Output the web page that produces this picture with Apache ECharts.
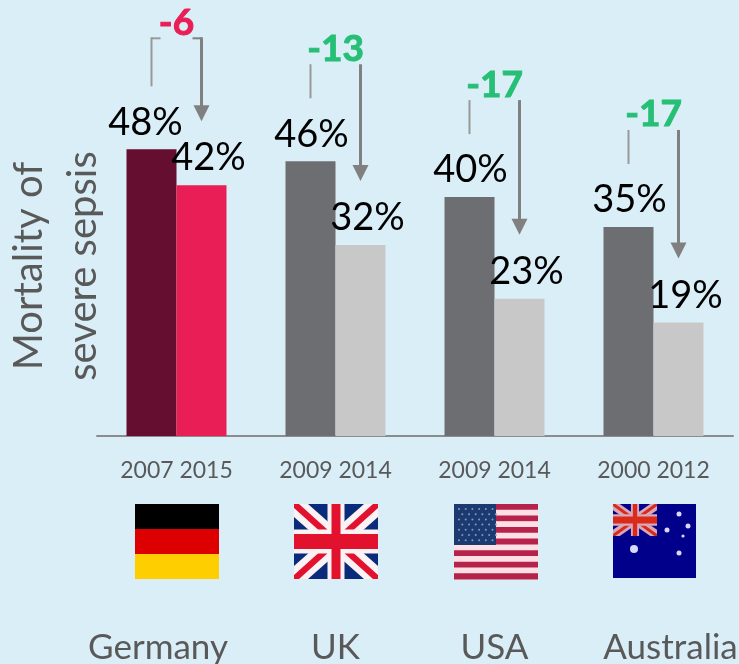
<!DOCTYPE html>
<html>
<head>
<meta charset="utf-8">
<title>Mortality of severe sepsis</title>
<style>
  html, body { margin: 0; padding: 0; background: #daeef8; }
  #main { width: 739px; height: 664px; }
</style>
</head>
<body>
<div id="main"></div>
<script src="https://cdn.jsdelivr.net/npm/echarts@6/dist/echarts.min.js"></script>
<script>
var countries = ["Germany", "UK", "USA", "Australia"];
var startYears = ["2007", "2009", "2009", "2000"];
var endYears = ["2015", "2014", "2014", "2012"];
var startValues = [48, 46, 40, 35];
var endValues = [42, 32, 23, 19];
var deltas = [-6, -13, -17, -17];

var gray = "#595959";
var font = "Lato, Carlito, sans-serif";
var barWidth = 50;

// 箭头和差值，位置跟着柱子高度走
function renderDelta(params, api) {
  var i = api.value(0);
  var center = api.coord([i, 0])[0];
  var x1 = center - barWidth / 2;
  var x2 = center + barWidth / 2;
  var leftBottom = api.coord([i, api.value(1)])[1] - 63;
  var tip = api.coord([i, api.value(2)])[1] - 64;
  var isGermany = i === 0;
  var top = leftBottom - (isGermany ? 49 : 34);
  var delta = api.value(3);
  var lineColor = "#808080";
  var color = isGermany ? "#e91e57" : "#26bf75";
  var children = [
    {
      type: "line",
      shape: { x1: x1, y1: top, x2: x1, y2: leftBottom },
      style: { stroke: "#999999", lineWidth: 2 },
    },
    {
      type: "line",
      shape: { x1: x2, y1: top, x2: x2, y2: tip - 14 },
      style: { stroke: lineColor, lineWidth: 3 },
    },
    {
      type: "polygon",
      shape: { points: [[x2 - 8, tip - 16], [x2 + 8, tip - 16], [x2, tip]] },
      style: { fill: lineColor },
    },
    {
      type: "text",
      style: {
        text: String(delta),
        x: center,
        y: top + (isGermany ? 4 : 3),
        align: "center",
        verticalAlign: "bottom",
        fill: color,
        stroke: color,
        lineWidth: 1,
        font: "bold 37px " + font,
      },
    },
  ];
  if (isGermany) {
    children.push(
      {
        type: "line",
        shape: { x1: x1, y1: top + 1, x2: x1 + 9, y2: top + 1 },
        style: { stroke: "#999999", lineWidth: 2 },
      },
      {
        type: "line",
        shape: { x1: x2 - 9, y1: top + 1, x2: x2, y2: top + 1 },
        style: { stroke: lineColor, lineWidth: 2 },
      }
    );
  }
  return { type: "group", children: children };
}

function rect(x, y, w, h, fill) {
  return { type: "rect", shape: { x: x, y: y, width: w, height: h }, style: { fill: fill } };
}

function poly(points, fill) {
  return { type: "polygon", shape: { points: points }, style: { fill: fill } };
}

// 米字旗
function unionJack(x, y, w, h, blue, white, red, scale) {
  var out = [rect(x, y, w, h, blue)];
  function bands(t, th, color) {
    out.push(poly([[x, y], [x + t, y], [x + w, y + h - th], [x + w, y + h], [x + w - t, y + h], [x, y + th]], color));
    out.push(poly([[x + w, y], [x + w - t, y], [x, y + h - th], [x, y + h], [x + t, y + h], [x + w, y + th]], color));
  }
  bands(14 * scale, 13 * scale, white);
  bands(5 * scale, 4 * scale, red);
  out.push(rect(x + w / 2 - 8.5 * scale, y, 17 * scale, h, white));
  out.push(rect(x, y + h / 2 - 12 * scale, w, 24 * scale, white));
  out.push(rect(x + w / 2 - 4.5 * scale, y, 9 * scale, h, red));
  out.push(rect(x, y + h / 2 - 7.5 * scale, w, 15 * scale, red));
  return out;
}

function flags() {
  var out = [];
  // 德国
  out.push(rect(135, 504, 84, 25, "#000000"));
  out.push(rect(135, 529, 84, 25, "#dd0000"));
  out.push(rect(135, 554, 84, 25, "#ffce00"));
  // 英国
  out = out.concat(unionJack(294, 504, 84, 75, "#0a2a7c", "#fbf2f4", "#e2122f", 1));
  // 美国
  var i, j;
  for (i = 0; i < 13; i++) {
    out.push(rect(454, 504 + (i * 75) / 13, 84, 75 / 13 + 0.5, i % 2 ? "#ffdfe6" : "#b5224a"));
  }
  out.push(rect(454, 504, 42, 41, "#1d3a70"));
  for (j = 0; j < 7; j++) {
    for (i = 0; i < 6; i++) {
      out.push({
        type: "circle",
        shape: { cx: 459 + i * 6.7 + (j % 2 ? 3.3 : 0), cy: 509 + j * 5.2, r: 1 },
        style: { fill: "#7f9cc0" },
      });
    }
  }
  // 澳大利亚
  out.push(rect(613, 504, 83, 74, "#00008b"));
  out = out.concat(unionJack(613, 504, 44, 32, "#00008b", "#d8a8b8", "#d92a1a", 0.48));
  [
    [634, 549, 4],
    [679, 514, 2.5],
    [688, 526, 2.5],
    [667, 530, 2.5],
    [683, 536, 1.6],
    [679, 553, 2.5],
  ].forEach(function (s) {
    out.push({
      type: "circle",
      shape: { cx: s[0], cy: s[1], r: s[2] },
      style: { fill: "#d8d8f8" },
    });
  });
  return out;
}

var chart = echarts.init(document.getElementById("main"));

var countryStyle = { color: gray, fontSize: 35, fontFamily: font };

var option = {
  backgroundColor: "#daeef8",
  animation: false,
  grid: { left: 97, right: 6, top: 0, bottom: 228, outerBoundsMode: "none" },
  xAxis: [
    {
      type: "category",
      data: countries.map(function (c, i) {
        return startYears[i] + " " + endYears[i];
      }),
      axisLine: { lineStyle: { color: "#8c8c8c", width: 2 } },
      axisTick: { show: false },
      axisLabel: { color: gray, fontSize: 23, fontFamily: font, margin: 23, interval: 0 },
    },
    {
      type: "category",
      position: "bottom",
      offset: 186,
      data: countries,
      axisLine: { show: false },
      axisTick: { show: false },
      axisLabel: {
        interval: 0,
        formatter: function (v) {
          return "{" + v + "|" + v + "}";
        },
        rich: {
          Germany: Object.assign({ padding: [0, 37, 0, 0] }, countryStyle),
          UK: countryStyle,
          USA: countryStyle,
          Australia: Object.assign({ padding: [0, 0, 0, 34] }, countryStyle),
        },
      },
    },
  ],
  yAxis: {
    type: "value",
    min: 0,
    max: 73,
    show: false,
  },
  series: [
    {
      type: "bar",
      barWidth: barWidth,
      barGap: 0,
      data: startValues.map(function (v, i) {
        return {
          value: v,
          itemStyle: { color: i === 0 ? "#650e2f" : "#6d6e71" },
          label: { offset: i === 0 ? [-6, 0] : [1, 0] },
        };
      }),
      label: {
        show: true,
        position: "top",
        distance: 8,
        formatter: "{c}%",
        color: "#000",
        fontSize: 38,
        fontFamily: font,
      },
      z: 2,
    },
    {
      type: "bar",
      barWidth: barWidth,
      data: endValues.map(function (v, i) {
        return { value: v, itemStyle: { color: i === 0 ? "#e91e57" : "#c8c8c8" } };
      }),
      label: {
        show: true,
        position: "top",
        distance: 8,
        offset: [7, 0],
        formatter: "{c}%",
        color: "#000",
        fontSize: 38,
        fontFamily: font,
      },
      z: 2,
    },
    {
      type: "custom",
      renderItem: renderDelta,
      silent: true,
      encode: { x: 0, y: 1 },
      data: countries.map(function (c, i) {
        return [i, startValues[i], endValues[i], deltas[i]];
      }),
      z: 3,
    },
  ],
  graphic: [
    {
      type: "text",
      x: 56,
      y: 266,
      rotation: Math.PI / 2,
      style: {
        text: "Mortality of\nsevere sepsis",
        fill: gray,
        font: "40px " + font,
        align: "center",
        verticalAlign: "middle",
        lineHeight: 54,
      },
    },
  ].concat(flags()),
};
chart.setOption(option);
</script>
</body>
</html>
